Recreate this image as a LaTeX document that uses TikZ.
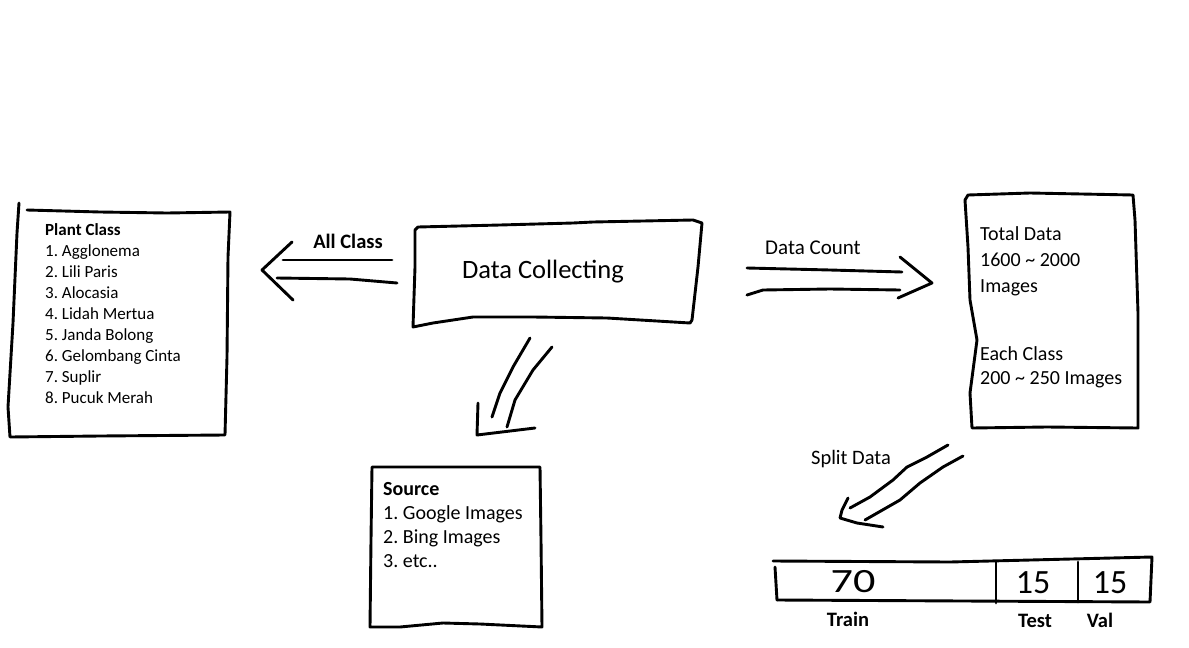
\documentclass[tikz,border=0pt]{standalone}
\usepackage{fontspec}
\setmainfont{Carlito}
\frenchspacing
\begin{document}
\frenchspacing
\begin{tikzpicture}[x=1pt,y=-1pt,
  hand/.style={line width=2.9pt,line cap=round,line join=round},
  txt/.style={inner sep=0pt,text=black}]
\path[use as bounding box] (0,0) rectangle (1189,648);

% ---------- Plant Class box ----------
\draw[hand] (19,203) -- (17,233) -- (13,323) -- (8,407) -- (10,437) -- (100,436) -- (225,435)
  -- (227,357) -- (228,257) -- (230,212) -- (167,213) -- (100,212) -- (27,210);
\node[txt,anchor=north west,align=left,font=\fontsize{17}{21}\selectfont] (plant) at (45,223)
  {\textbf{Plant Class}\\1. Agglonema\\2. Lili Paris\\3. Alocasia\\4. Lidah Mertua\\5. Janda Bolong\\6. Gelombang Cinta\\7. Suplir\\8. Pucuk Merah};

% ---------- Data Collecting box ----------
\draw[hand] (418,227) -- (500,225) -- (573,223) -- (593,222) -- (693,220) -- (702,223)
  -- (698,267) -- (692,320) -- (690,323) -- (607,318) -- (533,317) -- (473,317) -- (433,323)
  -- (413,327) -- (415,267) -- (415,230) -- cycle;
\node[txt,font=\fontsize{26.5}{30}\selectfont] (dc) at (543,272) {Data Collecting};

% ---------- All Class arrow ----------
\coordinate (acTip) at (262,270);
\draw[hand] (392,260) -- (283,260);
\draw[hand] (397,283) -- (350,279) -- (277,278);
\draw[hand] (292,242) -- (acTip) -- (293,300);
\node[txt,font=\fontsize{20.5}{24}\selectfont\bfseries] (allclass) at (348,241) {All Class};

% ---------- Down arrow to Source ----------
\coordinate (srcTip) at (477,435);
\draw[hand] (530,338) -- (513,367) -- (500,393) -- (492,417);
\draw[hand] (552,347) -- (533,370) -- (515,400) -- (507,427);
\draw[hand] (478,403) -- (srcTip) -- (535,428);

% ---------- Source box ----------
\draw[hand] (372,467) -- (450,467) -- (540,467) -- (541,540) -- (542,627) -- (480,624)
  -- (443,623) -- (400,627) -- (370,627) -- (371,540) -- cycle;
\node[txt,anchor=north west,align=left,font=\fontsize{20}{24}\selectfont] (src) at (383,482)
  {\textbf{Source}\\1. Google Images\\2. Bing Images\\3. etc..};

% ---------- Data Count arrow ----------
\coordinate (dcTip) at (932,283);
\draw[hand] (747,268) -- (830,270) -- (902,272);
\draw[hand] (747,295) -- (763,290) -- (830,289) -- (900,290);
\draw[hand] (900,257) -- (dcTip) -- (898,298);
\node[txt,font=\fontsize{21}{25}\selectfont] (datacount) at (813,248) {Data Count};

% ---------- Total box ----------
\draw[hand] (968,195) -- (1030,193) -- (1133,195) -- (1135,220) -- (1138,313) -- (1138,428)
  -- (1047,427) -- (972,428) -- (970,393) -- (977,340) -- (970,300) -- (968,247) -- (965,200) -- cycle;
\node[txt,anchor=north west,align=left,font=\fontsize{20}{26}\selectfont] (total) at (980,226)
  {Total Data\\1600 \textasciitilde{} 2000\\Images};
\node[txt,anchor=north west,align=left,font=\fontsize{20}{24}\selectfont] (each) at (980,346)
  {Each Class\\200 \textasciitilde{} 250 Images};

% ---------- Split Data arrow ----------
\coordinate (spTip) at (840,518);
\draw[hand] (948,445) -- (927,457) -- (907,467) -- (893,480) -- (870,497) -- (850,508);
\draw[hand] (963,456) -- (943,467) -- (920,483) -- (900,500) -- (865,520);
\draw[hand] (848,498) -- (842,510) -- (spTip) -- (857,523) -- (883,527);
\node[txt,font=\fontsize{20.5}{24}\selectfont] (split) at (851,459) {Split Data};

% ---------- Split table ----------
\draw[hand] (773,561) -- (950,562) -- (1152,557) -- (1150,602) -- (777,600);
\draw[hand] (775,567) -- (777,600);
\draw[hand] (996,562) -- (996,603);
\draw[hand] (1078,562) -- (1078,602);
\node[txt,font=\fontsize{34}{40}\selectfont,xscale=1.3] (n70) at (853,582) {70};
\node[txt,font=\fontsize{34}{40}\selectfont] (n15a) at (1033,583) {15};
\node[txt,font=\fontsize{34}{40}\selectfont] (n15b) at (1110,583) {15};
\node[txt,anchor=base,font=\fontsize{20.5}{24}\selectfont\bfseries] (train) at (848,626) {Train};
\node[txt,anchor=base,font=\fontsize{20.5}{24}\selectfont\bfseries] (test) at (1035,627) {Test};
\node[txt,anchor=base,font=\fontsize{20.5}{24}\selectfont\bfseries] (val) at (1100,627) {Val};
\end{tikzpicture}
\end{document}
